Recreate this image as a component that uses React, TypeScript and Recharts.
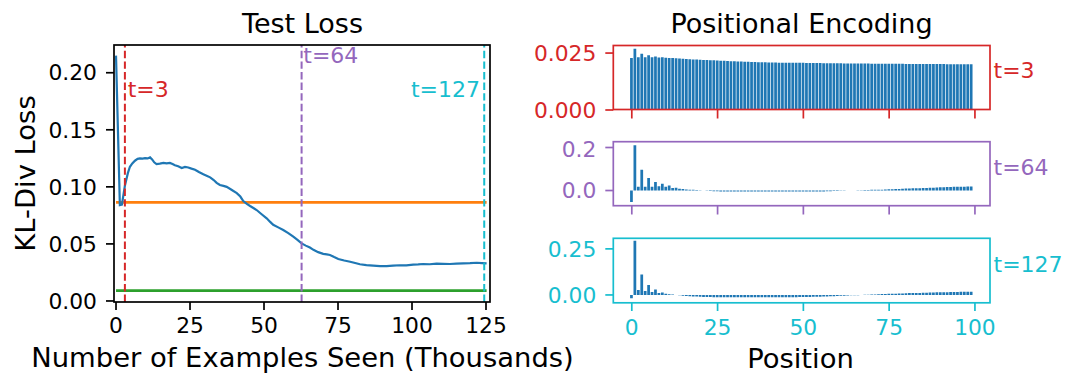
import { Bar, BarChart, ComposedChart, Line, ReferenceLine, XAxis, YAxis } from "recharts";

// test loss curve (thousands of examples seen -> KL-div loss)
const examplesSeen = [
  0, 1.3, 2.0, 3.0, 4.0, 4.7, 5.5, 6.4, 7.3, 8.1, 9.0, 9.8, 10.7, 11.5, 12.2, 12.9, 13.7, 14.8, 16.0,
  17.1, 18.2, 19.1, 19.9, 21.0, 22.2, 23.3, 24.4, 25.5, 26.7, 28.0, 29.5, 30.6, 31.8, 33.0, 34.0,
  35.1, 36.3, 37.4, 39.0, 40.8, 42.0, 43.0, 44.2, 45.3, 46.4, 47.5, 49.2, 50.9, 52.0, 53.1, 54.8,
  56.5, 58.2, 59.9, 61.3, 62.7, 64.1, 65.5, 66.7, 68.3, 70.0, 71.2, 72.3, 73.7, 75.1, 77.1, 79.1,
  80.8, 82.4, 84.6, 86.9, 89.2, 91.4, 93.6, 95.9, 98.1, 100.4, 102.1, 103.8, 106.0, 108.3, 110.5,
  112.8, 115.0, 117.3, 119.6, 121.9, 123.6, 125.2,
];
const testLoss = [
  0.215, 0.084, 0.0845, 0.101, 0.112, 0.1176, 0.1205, 0.1229, 0.1245, 0.125, 0.1248, 0.1252, 0.1249,
  0.1258, 0.124, 0.1215, 0.12, 0.1203, 0.121, 0.1205, 0.121, 0.12, 0.119, 0.118, 0.1165, 0.1175,
  0.117, 0.116, 0.115, 0.113, 0.111, 0.1098, 0.1083, 0.106, 0.1035, 0.1016, 0.1008, 0.1, 0.0975,
  0.0945, 0.0915, 0.0875, 0.085, 0.0832, 0.0815, 0.0797, 0.076, 0.0724, 0.0695, 0.0668, 0.0645,
  0.0622, 0.0595, 0.0563, 0.0535, 0.0505, 0.0485, 0.0468, 0.0448, 0.0428, 0.0413, 0.0408, 0.0403,
  0.0385, 0.0368, 0.0355, 0.0344, 0.0333, 0.0322, 0.0314, 0.0309, 0.0305, 0.0306, 0.0309, 0.0313,
  0.0312, 0.0318, 0.032, 0.0324, 0.0322, 0.0327, 0.0325, 0.0324, 0.0328, 0.033, 0.0331, 0.0335,
  0.0332, 0.033,
];
const baselineLevels = [0.0864, 0.0091];
const baselineColors = ["#ff7f0e", "#2ca02c"];

const snapshotSteps = [3.0, 62.7, 124.4];
const snapshotNames = ["t=3", "t=64", "t=127"];
const snapshotColors = ["#d62728", "#9467bd", "#17becf"];

const lossTicks = [0, 0.05, 0.1, 0.15, 0.2];
const stepTicks = [0, 25, 50, 75, 100, 125];
const positionTicks = [0, 25, 50, 75, 100];

// positional encoding weights per position, one list per snapshot
const encodingT3 = [
  0.0228, 0.0269, 0.0232, 0.0247, 0.0232, 0.024, 0.0232, 0.0235, 0.0231, 0.0232,
  0.0229, 0.0228, 0.0228, 0.0227, 0.0226, 0.0225, 0.0224, 0.0223, 0.0222, 0.0222,
  0.0221, 0.022, 0.0219, 0.0218, 0.0218, 0.0217, 0.0216, 0.0216, 0.0215, 0.0214,
  0.0214, 0.0213, 0.0213, 0.0212, 0.0212, 0.0211, 0.0211, 0.021, 0.021, 0.021,
  0.0209, 0.0209, 0.0209, 0.0208, 0.0208, 0.0208, 0.0208, 0.0207, 0.0207, 0.0207,
  0.0207, 0.0206, 0.0206, 0.0206, 0.0206, 0.0206, 0.0205, 0.0205, 0.0205, 0.0205,
  0.0205, 0.0205, 0.0204, 0.0204, 0.0204, 0.0204, 0.0204, 0.0204, 0.0204, 0.0204,
  0.0203, 0.0203, 0.0203, 0.0203, 0.0203, 0.0203, 0.0203, 0.0203, 0.0203, 0.0203,
  0.0202, 0.0202, 0.0202, 0.0202, 0.0202, 0.0202, 0.0202, 0.0202, 0.0202, 0.0202,
  0.0202, 0.0202, 0.0201, 0.0201, 0.0201, 0.0201, 0.0201, 0.0201, 0.0201, 0.0201,
];
const encodingT64 = [
  -0.053, 0.2105, 0.017, 0.096, 0.017, 0.058, 0.018, 0.04, 0.02, 0.031,
  0.017, 0.023, 0.012, 0.013, 0.008, 0.007, 0.005, 0.004, 0.003, 0.002,
  0.001, 0.0, -0.001, -0.002, -0.003, -0.003, -0.004, -0.004, -0.004, -0.005,
  -0.005, -0.005, -0.005, -0.005, -0.005, -0.005, -0.005, -0.005, -0.005, -0.005,
  -0.005, -0.005, -0.005, -0.005, -0.005, -0.005, -0.005, -0.005, -0.005, -0.005,
  -0.005, -0.005, -0.005, -0.004, -0.004, -0.004, -0.004, -0.003, -0.003, -0.002,
  -0.002, -0.001, -0.001, 0.0, 0.0, 0.0, 0.001, 0.001, 0.002, 0.002,
  0.003, 0.003, 0.004, 0.004, 0.005, 0.006, 0.006, 0.007, 0.007, 0.008,
  0.009, 0.009, 0.01, 0.01, 0.011, 0.012, 0.012, 0.013, 0.013, 0.014,
  0.015, 0.015, 0.016, 0.016, 0.017, 0.017, 0.018, 0.018, 0.019, 0.019,
];
const encodingT127 = [
  -0.018, 0.2947, 0.027, 0.1115, 0.0216, 0.054, 0.016, 0.029, 0.011, 0.013,
  0.007, 0.004, 0.002, 0.0, -0.002, -0.004, -0.006, -0.007, -0.008, -0.009,
  -0.01, -0.011, -0.011, -0.011, -0.012, -0.012, -0.012, -0.012, -0.012, -0.012,
  -0.012, -0.012, -0.012, -0.012, -0.012, -0.012, -0.012, -0.012, -0.012, -0.012,
  -0.012, -0.012, -0.012, -0.012, -0.012, -0.012, -0.012, -0.012, -0.012, -0.011,
  -0.011, -0.011, -0.011, -0.01, -0.01, -0.01, -0.009, -0.008, -0.007, -0.007,
  -0.006, -0.005, -0.004, -0.003, -0.002, -0.002, -0.001, 0.0, 0.001, 0.001,
  0.002, 0.003, 0.004, 0.005, 0.005, 0.006, 0.007, 0.007, 0.008, 0.008,
  0.009, 0.01, 0.01, 0.011, 0.011, 0.012, 0.012, 0.013, 0.013, 0.014,
  0.014, 0.015, 0.015, 0.016, 0.016, 0.016, 0.017, 0.017, 0.018, 0.018,
];

const FONT = "'DejaVu Sans', sans-serif";
const TICK_FS = 21.8;
const TITLE_FS = 27;
const LABEL_FS = 27.4;
const BLUE = "#1f77b4";

const lossData = examplesSeen.map((x, i) => ({ x, loss: testLoss[i] }));

const panels = [
  { values: encodingT3, domain: [0, 0.0281], ticks: [0, 0.025], digits: 3, top: 45.5, height: 64 },
  { values: encodingT64, domain: [-0.072, 0.2256], ticks: [0, 0.2], digits: 1, top: 141.7, height: 64 },
  { values: encodingT127, domain: [-0.041, 0.309], ticks: [0, 0.25], digits: 2, top: 238.3, height: 64.5 },
];

function EncodingPanel({ index }: { index: number }) {
  const p = panels[index];
  const color = snapshotColors[index];
  const data = p.values.map((v, i) => ({ position: i, weight: v }));
  const showLabels = index === panels.length - 1;
  return (
    <div style={{ position: "absolute", left: 520, top: p.top - 5 }}>
      <BarChart width={490} height={p.height + 45} data={data} margin={{ top: 5, right: 20, bottom: 0, left: 0 }}>
        <XAxis
          type="number"
          dataKey="position"
          domain={[-5.39, 104.39]}
          ticks={positionTicks}
          allowDataOverflow
          axisLine={false}
          tickSize={8.5}
          tickMargin={9}
          height={40}
          tickLine={{ stroke: color, strokeWidth: 1.7 }}
          tick={{ fill: color, fontSize: TICK_FS }}
          tickFormatter={(v) => (showLabels ? String(v) : "")}
        />
        <YAxis
          type="number"
          domain={p.domain}
          ticks={p.ticks}
          allowDataOverflow
          axisLine={false}
          width={93.3}
          tickSize={8}
          tickMargin={9}
          tickLine={{ stroke: color, strokeWidth: 1.7 }}
          tick={{ fill: color, fontSize: TICK_FS }}
          tickFormatter={(v) => Number(v).toFixed(p.digits)}
        />
        <Bar dataKey="weight" fill={BLUE} barSize={2.74} isAnimationActive={false} />
      </BarChart>
    </div>
  );
}

export default function App() {
  return (
    <div style={{ position: "absolute", left: 0, top: 0, width: 1079, height: 388, background: "#fff", fontFamily: FONT }}>
      <div style={{ position: "absolute", left: 0, top: 0 }}>
        <ComposedChart width={520} height={388} data={lossData} margin={{ top: 45, right: 30, bottom: 46, left: 0 }}>
          <XAxis
            type="number"
            dataKey="x"
            domain={[-0.68, 126.35]}
            ticks={stepTicks}
            allowDataOverflow
            axisLine={false}
            height={40}
            tickSize={8}
            tickMargin={8}
            tickLine={{ stroke: "#000", strokeWidth: 1.7 }}
            tick={{ fill: "#000", fontSize: TICK_FS }}
          />
          <YAxis
            type="number"
            domain={[-0.0009, 0.2243]}
            ticks={lossTicks}
            allowDataOverflow
            axisLine={false}
            width={114}
            tickSize={8}
            tickMargin={9}
            tickLine={{ stroke: "#000", strokeWidth: 1.7 }}
            tick={{ fill: "#000", fontSize: TICK_FS }}
            tickFormatter={(v) => Number(v).toFixed(2)}
          />
          {baselineLevels.map((y, i) => (
            <ReferenceLine
              key={"b" + i}
              segment={[{ x: 0, y }, { x: 125.2, y }]}
              stroke={baselineColors[i]}
              strokeWidth={2.6}
            />
          ))}
          <Line
            type="linear"
            dataKey="loss"
            stroke={BLUE}
            strokeWidth={2.2}
            dot={false}
            isAnimationActive={false}
          />
          {snapshotSteps.map((x, i) => (
            <ReferenceLine
              key={"s" + i}
              x={x}
              stroke={snapshotColors[i]}
              strokeWidth={2}
              strokeDasharray="7.4 3.2"
            />
          ))}
        </ComposedChart>
      </div>

      {panels.map((_, i) => (
        <EncodingPanel key={i} index={i} />
      ))}

      <svg width={1079} height={388} style={{ position: "absolute", left: 0, top: 0, pointerEvents: "none" }}>
        <rect x={114} y={45} width={376} height={257} fill="none" stroke="#000" strokeWidth={1.7} />
        {panels.map((p, i) => (
          <rect key={i} x={613.3} y={p.top} width={376.7} height={p.height} fill="none" stroke={snapshotColors[i]} strokeWidth={1.7} />
        ))}

        <text x={302.5} y={33.3} textAnchor="middle" fontSize={TITLE_FS} fill="#000">Test Loss</text>
        <text x={801.5} y={33.3} textAnchor="middle" fontSize={TITLE_FS} fill="#000">Positional Encoding</text>
        <text x={302.5} y={367} textAnchor="middle" fontSize={LABEL_FS} fill="#000">Number of Examples Seen (Thousands)</text>
        <text x={800.5} y={368} textAnchor="middle" fontSize={LABEL_FS} fill="#000">Position</text>
        <text transform="translate(34.5,173.5) rotate(-90)" textAnchor="middle" fontSize={LABEL_FS} fill="#000">KL-Div Loss</text>

        <text x={127.7} y={96.7} fontSize={22} fill={snapshotColors[0]}>{snapshotNames[0]}</text>
        <text x={303.3} y={63.3} fontSize={22} fill={snapshotColors[1]}>{snapshotNames[1]}</text>
        <text x={480} y={96.7} textAnchor="end" fontSize={22} fill={snapshotColors[2]}>{snapshotNames[2]}</text>

        {[78.3, 175, 271.7].map((y, i) => (
          <text key={i} x={993.5} y={y} fontSize={22} fill={snapshotColors[i]}>{snapshotNames[i]}</text>
        ))}
      </svg>
    </div>
  );
}
